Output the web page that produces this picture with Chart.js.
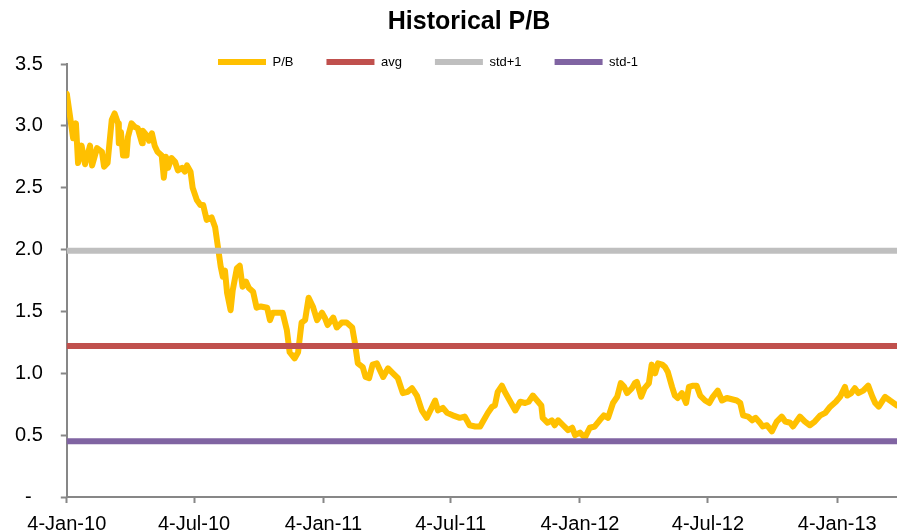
<!DOCTYPE html>
<html>
<head>
<meta charset="utf-8">
<title>Historical P/B</title>
<script src="https://cdn.jsdelivr.net/npm/chart.js@4/dist/chart.umd.min.js"></script>
<style>
  body { margin: 0; background: #fff; }
</style>
</head>
<body>
<canvas id="pbChart" width="897" height="531"></canvas>
<script>
// ==========================
// DATA
// ==========================
// days since 4-Jan-10
const days = [0, 4, 9, 13, 16, 21, 26, 33, 36, 43, 50, 53, 58, 61, 64, 68, 73, 74, 77, 80,
  85, 87, 92, 97, 101, 107, 108, 114, 117, 121, 125, 129, 135, 138, 141, 144, 149, 154, 158, 164,
  168, 171, 176, 179, 185, 190, 194, 199, 206, 211, 215, 219, 222, 225, 228, 233, 236, 242, 246, 250,
  255, 259, 265, 270, 276, 285, 289, 293, 300, 307, 313, 317, 324, 329, 334, 339, 344, 350, 356, 363,
  367, 371, 379, 384, 391, 398, 406, 410, 414, 421, 425, 430, 435, 441, 450, 457, 464, 471, 478, 485,
  491, 498, 505, 512, 519, 524, 528, 535, 541, 549, 559, 566, 573, 581, 588, 592, 599, 605, 609, 613,
  619, 623, 630, 638, 645, 652, 657, 663, 669, 675, 677, 684, 690, 694, 699, 706, 713, 719, 723, 730,
  737, 744, 751, 758, 764, 770, 777, 783, 788, 793, 797, 804, 808, 811, 817, 822, 828, 832, 837, 841,
  847, 851, 855, 861, 865, 869, 875, 881, 885, 891, 896, 901, 908, 914, 919, 926, 932, 939, 946, 953,
  958, 962, 969, 975, 980, 986, 990, 996, 1003, 1010, 1017, 1022, 1029, 1033, 1043, 1050, 1057, 1064, 1072, 1079,
  1086, 1094, 1100, 1107, 1110, 1116, 1121, 1126, 1133, 1140, 1146, 1150, 1155, 1164, 1171, 1181];

const pb = [3.26, 3.10, 2.90, 3.02, 2.70, 2.84, 2.69, 2.84, 2.68, 2.82, 2.79, 2.67, 2.70, 2.88, 3.05, 3.10, 3.02, 2.86, 2.95, 2.76,
  2.76, 2.91, 3.02, 2.99, 2.98, 2.86, 2.96, 2.92, 2.88, 2.94, 2.84, 2.79, 2.76, 2.58, 2.75, 2.66, 2.74, 2.71, 2.64, 2.66,
  2.63, 2.68, 2.63, 2.50, 2.40, 2.36, 2.36, 2.24, 2.26, 2.18, 2.02, 1.86, 1.78, 1.83, 1.65, 1.51, 1.67, 1.85, 1.87, 1.70,
  1.74, 1.69, 1.66, 1.53, 1.54, 1.53, 1.43, 1.49, 1.49, 1.49, 1.35, 1.17, 1.12, 1.17, 1.41, 1.43, 1.61, 1.54, 1.43, 1.49,
  1.45, 1.39, 1.45, 1.37, 1.41, 1.41, 1.37, 1.24, 1.08, 1.05, 0.97, 0.96, 1.07, 1.08, 0.97, 1.04, 1.00, 0.96, 0.84, 0.85,
  0.88, 0.82, 0.70, 0.64, 0.72, 0.78, 0.70, 0.72, 0.68, 0.66, 0.64, 0.65, 0.58, 0.57, 0.57, 0.61, 0.68, 0.73, 0.74, 0.85,
  0.90, 0.85, 0.78, 0.70, 0.77, 0.76, 0.77, 0.82, 0.78, 0.74, 0.64, 0.60, 0.62, 0.58, 0.62, 0.58, 0.54, 0.56, 0.50, 0.52,
  0.48, 0.56, 0.57, 0.62, 0.66, 0.64, 0.76, 0.81, 0.92, 0.89, 0.84, 0.88, 0.92, 0.93, 0.81, 0.88, 0.92, 1.07, 1.00, 1.08,
  1.07, 1.05, 1.01, 0.89, 0.82, 0.80, 0.84, 0.76, 0.89, 0.90, 0.90, 0.82, 0.78, 0.76, 0.81, 0.86, 0.78, 0.80, 0.79, 0.78,
  0.76, 0.66, 0.65, 0.62, 0.64, 0.60, 0.57, 0.58, 0.53, 0.61, 0.65, 0.61, 0.60, 0.57, 0.65, 0.61, 0.58, 0.61, 0.66, 0.68,
  0.73, 0.77, 0.81, 0.89, 0.82, 0.84, 0.88, 0.84, 0.86, 0.90, 0.81, 0.76, 0.73, 0.81, 0.78, 0.74];

const avg = 1.22;
const stdPlus1 = 1.99;
const stdMinus1 = 0.45;

const tickDays = [0, 181, 365, 546, 730, 912, 1096];
const tickLabels = ["4-Jan-10", "4-Jul-10", "4-Jan-11", "4-Jul-11", "4-Jan-12", "4-Jul-12", "4-Jan-13"];

// ==========================
// HELPERS
// ==========================
const FONT = "'Liberation Sans', Arial, sans-serif";
const AXIS_GREY = "#878787";

function flatLine(value) {
    return [
        { x: days[0], y: value },
        { x: days[days.length - 1], y: value }
    ];
}

// nudge title / legend to where Excel placed them
const nudge = {
    id: "nudge",
    afterLayout(chart) {
        const t = chart.titleBlock;
        t.left += 22; t.right += 22;
        const l = chart.legend;
        l.left -= 19; l.right -= 19;
        l.top += 14.5; l.bottom += 14.5;
    }
};

// ==========================
// CHART
// ==========================
new Chart(document.getElementById("pbChart"), {
    type: "line",
    data: {
        datasets: [
            {
                label: "P/B",
                data: days.map((d, i) => ({ x: d, y: pb[i] })),
                borderColor: "#FFC000",
                backgroundColor: "#FFC000",
                borderWidth: 6,
                order: 1
            },
            {
                label: "avg",
                data: flatLine(avg),
                borderColor: "#C0504D",
                backgroundColor: "#C0504D",
                borderWidth: 6,
                order: 0
            },
            {
                label: "std+1",
                data: flatLine(stdPlus1),
                borderColor: "#BFBFBF",
                backgroundColor: "#BFBFBF",
                borderWidth: 6,
                order: 0
            },
            {
                label: "std-1",
                data: flatLine(stdMinus1),
                borderColor: "#8064A2",
                backgroundColor: "#8064A2",
                borderWidth: 6,
                order: 0
            }
        ]
    },
    options: {
        responsive: false,
        animation: false,
        devicePixelRatio: 1,
        layout: { padding: { left: -3, right: 0, top: 0, bottom: -14 } },
        elements: {
            point: { radius: 0 },
            line: { tension: 0, borderCapStyle: "round", borderJoinStyle: "round" }
        },
        plugins: {
            title: {
                display: true,
                text: "Historical P/B",
                color: "#000",
                font: { family: FONT, size: 25, weight: "bold", lineHeight: 1 },
                padding: { top: 10, bottom: -27 }
            },
            legend: {
                labels: {
                    color: "#000",
                    font: { family: FONT, size: 13 },
                    usePointStyle: true,
                    pointStyle: "line",
                    pointStyleWidth: 48,
                    padding: 33,
                    sort: (a, b) => a.datasetIndex - b.datasetIndex
                }
            },
            tooltip: { enabled: false }
        },
        scales: {
            x: {
                type: "linear",
                min: 0,
                max: 1181,
                afterBuildTicks: axis => {
                    axis.ticks = tickDays.map(v => ({ value: v }));
                },
                ticks: {
                    autoSkip: false,
                    maxRotation: 0,
                    color: "#000",
                    padding: 11,
                    font: { family: FONT, size: 20, lineHeight: 1 },
                    callback: value => tickLabels[tickDays.indexOf(value)]
                },
                grid: { drawOnChartArea: false, drawTicks: true, tickLength: 6, tickWidth: 2, tickColor: AXIS_GREY },
                border: { color: AXIS_GREY, width: 2 }
            },
            y: {
                min: 0,
                max: 3.5,
                ticks: {
                    stepSize: 0.5,
                    color: "#000",
                    padding: 18,
                    font: { family: FONT, size: 20 },
                    callback: value => value === 0 ? "-  " : value.toFixed(1)
                },
                grid: { drawOnChartArea: false, drawTicks: true, tickLength: 6, tickWidth: 2, tickColor: AXIS_GREY },
                border: { color: AXIS_GREY, width: 2 }
            }
        }
    },
    plugins: [nudge]
});
</script>
</body>
</html>
